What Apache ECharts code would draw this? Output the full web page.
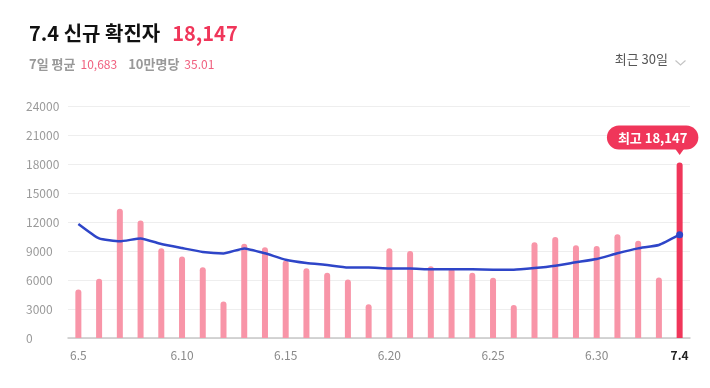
<!DOCTYPE html>
<html><head><meta charset="utf-8">
<script src="https://cdn.jsdelivr.net/npm/echarts@6/dist/echarts.min.js"></script>
<style>html,body{margin:0;padding:0;background:#fff}#c{width:710px;height:388px}</style>
</head><body><div id="c"></div>
<script>
const categories = ['6.5','6.6','6.7','6.8','6.9','6.10','6.11','6.12','6.13','6.14','6.15','6.16','6.17','6.18','6.19','6.20','6.21','6.22','6.23','6.24','6.25','6.26','6.27','6.28','6.29','6.30','7.1','7.2','7.3','7.4'];
const dailyCases = [5020,6120,13360,12150,9290,8430,7330,3770,9740,9400,8010,7220,6740,6050,3500,9290,9010,7430,7220,6740,6220,3420,9900,10460,9600,9530,10720,10060,6250,18147];
const weeklyAvg = [11800,10300,10000,10300,9720,9300,8900,8750,9270,8760,8100,7760,7550,7300,7300,7200,7200,7100,7100,7100,7070,7070,7240,7480,7830,8170,8760,9270,9620,10683];
const yTicks = [0,3000,6000,9000,12000,15000,18000,21000,24000];
const headline = {date:'7.4', label:'신규 확진자', value:'18,147', avgLabel:'7일 평균', avg:'10,683', perLabel:'10만명당', per:'35.01', range:'최근 30일', maxLabel:'최고'};

const FONT = '"Noto Sans CJK KR","Noto Sans",sans-serif';
const last = categories.length - 1;
const chart = echarts.init(document.getElementById('c'));
chart.setOption({
  animation:false,
  textStyle:{fontFamily:FONT},
  title:[{
    left:24, top:18,
    text:'{a|'+headline.date+' '+headline.label+'}{s|}{b|'+headline.value+'}',
    textStyle:{rich:{
      a:{fontFamily:FONT,fontSize:20,fontWeight:'bold',color:'#111'},
      s:{width:12},
      b:{fontFamily:FONT,fontSize:20,fontWeight:'bold',color:'#F0365A'}
    }}
  },{
    left:24, top:50,
    text:'{g|'+headline.avgLabel+'}{s1|}{p|'+headline.avg+'}{s2|}{g|'+headline.perLabel+'}{s1|}{p|'+headline.per+'}',
    textStyle:{fontWeight:'normal',rich:{
      g:{fontFamily:FONT,fontSize:13,fontWeight:'bold',color:'#999'},
      p:{fontFamily:FONT,fontSize:12,fontWeight:'normal',color:'#F0607F'},
      s1:{width:5}, s2:{width:11}
    }}
  }],
  graphic:[
    {type:'text',right:42,top:53,style:{text:headline.range,fontFamily:FONT,fontSize:13,fill:'#555'}},
    {type:'polyline',right:22,top:58,shape:{points:[[0,0],[5,4.5],[10,0]]},style:{stroke:'#c4c4c4',lineWidth:1.2,fill:null}}
  ],
  grid:{left:68,right:20,top:106,bottom:50},
  xAxis:{
    type:'category', data:categories, boundaryGap:true,
    axisTick:{show:false},
    axisLine:{lineStyle:{color:'#c8c8c8',width:1.5}},
    axisLabel:{
      interval:function(i){return i%5===0||i===last;},
      margin:11, fontSize:12, color:'#8a8a8a', fontFamily:FONT,
      formatter:function(v,i){return i===last?'{b|'+v+'}':v;},
      rich:{b:{fontWeight:'bold',color:'#222',fontSize:12,fontFamily:FONT}}
    }
  },
  yAxis:{
    type:'value', min:yTicks[0], max:yTicks[yTicks.length-1], interval:yTicks[1]-yTicks[0],
    axisLine:{show:false}, axisTick:{show:false},
    splitLine:{lineStyle:{color:'#eeeeee',width:1}},
    axisLabel:{align:'left',margin:42,fontSize:12,color:'#9a9a9a',fontFamily:FONT,
      formatter:function(v){return String(v);}}
  },
  series:[
    {
      type:'bar', barWidth:6,
      data:dailyCases.map(function(v,i){
        if(i!==last) return {value:v,itemStyle:{color:'#F895A8'}};
        return {value:v,itemStyle:{color:'#F0365A'},
          label:{show:true,position:'top',distance:13,offset:[-27,0],
            formatter:headline.maxLabel+' '+headline.value,
            backgroundColor:'#F0365A',borderRadius:13,padding:[6,11,5,11],
            color:'#fff',fontWeight:'bold',fontSize:13,fontFamily:FONT}};
      }),
      itemStyle:{borderRadius:[3,3,0,0]},
      markPoint:{
        silent:true, z:10,
        data:[{coord:[last,dailyCases[last]],symbol:'triangle',symbolRotate:180,symbolSize:[10,7],symbolOffset:[0,-11],itemStyle:{color:'#F0365A'},label:{show:false}}]
      },
      z:2
    },
    {
      type:'line', smooth:0.15,
      data:weeklyAvg.map(function(v,i){
        return i===last?{value:v,symbol:'circle',symbolSize:7,itemStyle:{color:'#2E45C8'}}:{value:v,symbol:'none'};
      }),
      showSymbol:true,
      lineStyle:{color:'#2E45C8',width:2.5},
      itemStyle:{color:'#2E45C8'},
      z:3
    }
  ]
});
</script></body></html>
